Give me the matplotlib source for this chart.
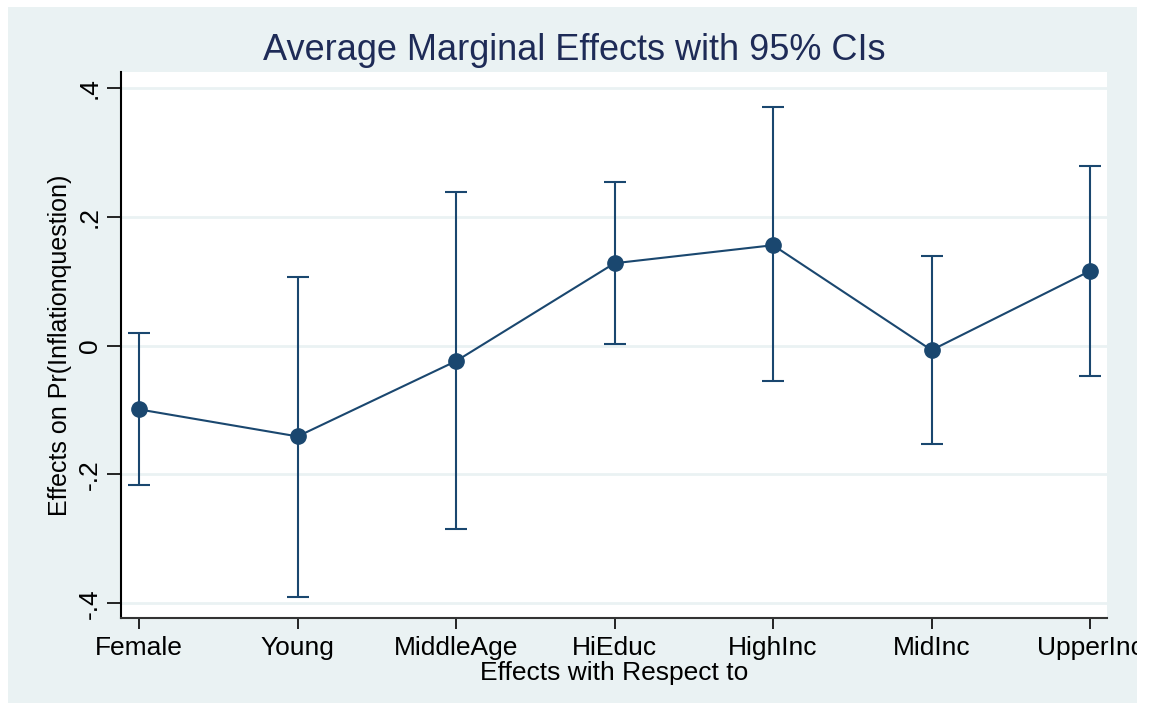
import numpy as np
import matplotlib
matplotlib.use("Agg")
import matplotlib.pyplot as plt
from matplotlib.patches import Rectangle

plt.rcParams['font.family'] = ['Liberation Sans', 'DejaVu Sans']

# average marginal effects and 95% confidence bounds
categories = ['Female', 'Young', 'MiddleAge', 'HiEduc', 'HighInc', 'MidInc', 'UpperInc']
effects = [-0.099, -0.141, -0.024, 0.128, 0.156, -0.007, 0.116]
ci_lower = [-0.217, -0.391, -0.285, 0.002, -0.055, -0.153, -0.047]
ci_upper = [0.019, 0.106, 0.238, 0.254, 0.371, 0.139, 0.279]
yticks = [-0.4, -0.2, 0, 0.2, 0.4]
ytick_labels = ['-.4', '-.2', '0', '.2', '.4']

navy = '#1A476F'
title_navy = '#1E2B57'
panel = '#EAF2F3'

fig = plt.figure(figsize=(11.49, 7.11), dpi=100, facecolor='white')
fig.patches.append(Rectangle((8 / 1149, 8 / 711), 1129 / 1149, 696 / 711,
                             transform=fig.transFigure, facecolor=panel,
                             edgecolor='none', zorder=-10))

ax = fig.add_axes([121 / 1149, 1 - 618 / 711, 986 / 1149, 546 / 711])
ax.set_facecolor('white')

x = np.arange(1, len(categories) + 1)
eff = np.array(effects)
lo = eff - np.array(ci_lower)
hi = np.array(ci_upper) - eff

ax.errorbar(x, eff, yerr=[lo, hi], fmt='none', ecolor=navy, elinewidth=1.5,
            capsize=8, capthick=1.5, zorder=3)
ax.plot(x, eff, color=navy, lw=1.5, marker='o', markersize=11, zorder=4)

ax.set_xlim(0.886, 7.107)
ax.set_ylim(-0.423, 0.425)
ax.set_xticks(x)
ax.set_xticklabels(categories, fontsize=19)
ax.set_yticks(yticks)
ax.set_yticklabels(ytick_labels, fontsize=19, rotation=90, va='center')
ax.tick_params(axis='y', length=10, width=1.2, pad=4)
ax.tick_params(axis='x', length=8, width=1.2, pad=5)

ax.grid(axis='y', color=panel, lw=2)
ax.set_axisbelow(True)

for side in ['top', 'right']:
    ax.spines[side].set_visible(False)
ax.spines['left'].set_linewidth(1.5)
ax.spines['bottom'].set_linewidth(1.5)
ax.spines['bottom'].set_color('#333333')

# title is centred on the whole graph, not on the plot region
fig.text(0.5, 1 - 50 / 711, 'Average Marginal Effects with 95% CIs', fontsize=26,
         color=title_navy, ha='center', va='center')
ax.set_xlabel('Effects with Respect to', fontsize=19, labelpad=1)
ax.set_ylabel('Effects on Pr(Inflationquestion)', fontsize=18, labelpad=4)

# white strip on the right edge, trimming the last tick label
fig.patches.append(Rectangle((1137 / 1149, 0), 12 / 1149, 1,
                             transform=fig.transFigure, facecolor='white',
                             edgecolor='none', zorder=10))

fig.savefig('out.png', dpi=100, facecolor='white')
